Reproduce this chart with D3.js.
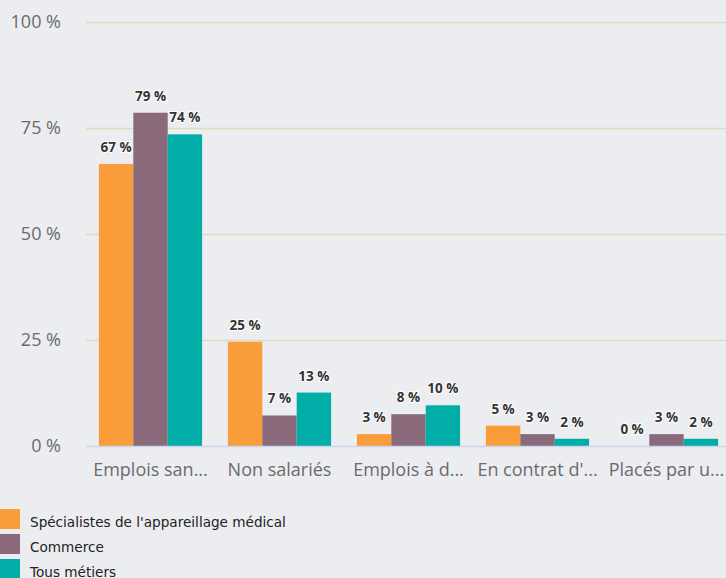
<!DOCTYPE html>
<html>
<head>
<meta charset="utf-8">
<script src="https://cdn.jsdelivr.net/npm/d3@7"></script>
<style>
  body { margin: 0; background: #ecedf0; }
  svg { display: block; font-family: "Open Sans", sans-serif; }
</style>
</head>
<body>
<svg id="svg"></svg>
<script>
var w = 726, h = 578;

// categories (as shown, truncated)
var categories = ["Emplois san...", "Non salariés", "Emplois à d...", "En contrat d'...", "Placés par u..."];
var seriesNames = ["Spécialistes de l'appareillage médical", "Commerce", "Tous métiers"];
var seriesColors = ["#f99d3a", "#8a6a7a", "#00ada7"];
// values in %
var specialistes = [66.5, 24.6, 2.8, 4.8, 0];
var commerce = [78.6, 7.2, 7.5, 2.8, 2.8];
var tousMetiers = [73.5, 12.6, 9.6, 1.7, 1.7];
var yTicks = [0, 25, 50, 75, 100];

var series = [specialistes, commerce, tousMetiers];

var svg = d3.select("#svg")
    .attr("width", w)
    .attr("height", h)

var x = d3.scaleBand()
    .domain(categories)
    .range([86, 731])
    .paddingInner(0.2)
    .paddingOuter(0.1)

var xs = d3.scaleBand()
    .domain(d3.range(series.length))
    .range([0, x.bandwidth()])

var y = d3.scaleLinear()
    .domain([0, 100])
    .range([446, 22])

// gridlines
svg.append("g")
    .selectAll("line")
    .data(yTicks.filter(function(t){return t > 0;}))
    .enter().append("line")
    .attr("x1", 86)
    .attr("x2", 726)
    .attr("y1", function(d){return y(d) + 0.5;})
    .attr("y2", function(d){return y(d) + 0.5;})
    .attr("stroke", "#d6e0bd")
    .attr("stroke-width", 1.5)

// y labels
svg.append("g")
    .selectAll("text")
    .data(yTicks)
    .enter().append("text")
    .attr("x", 61)
    .attr("y", function(d){return y(d) + 6;})
    .attr("text-anchor", "end")
    .attr("fill", "#6b6b6b")
    .style("font-size", "18px")
    .text(function(d){return d + " %";})

// bars
var groups = svg.append("g")
    .selectAll("g")
    .data(series)
    .enter().append("g")
    .attr("fill", function(d, i){return seriesColors[i];})

groups.each(function(vals, si){
    d3.select(this).selectAll("rect")
        .data(vals)
        .enter().append("rect")
        .attr("x", function(d, i){return x(categories[i]) + xs(si);})
        .attr("width", xs.bandwidth())
        .attr("y", function(d){return y(d);})
        .attr("height", function(d){return y(0) - y(d);})
})

// baseline
svg.append("line")
    .attr("x1", 86)
    .attr("x2", 726)
    .attr("y1", y(0) + 0.5)
    .attr("y2", y(0) + 0.5)
    .attr("stroke", "#ccd6eb")
    .attr("stroke-width", 1.5)

// data labels
groups.each(function(vals, si){
    d3.select(this).selectAll("text")
        .data(vals)
        .enter().append("text")
        .attr("x", function(d, i){return x(categories[i]) + xs(si) + xs.bandwidth() / 2;})
        .attr("y", function(d){return y(d) - 12;})
        .attr("text-anchor", "middle")
        .attr("fill", "#333")
        .attr("stroke", "#fff")
        .attr("stroke-width", 2)
        .attr("stroke-linejoin", "round")
        .attr("paint-order", "stroke")
        .style("font-size", "13.5px")
        .style("font-weight", "bold")
        .text(function(d){return Math.round(d) + " %";})
})

// x labels
svg.append("g")
    .selectAll("text")
    .data(categories)
    .enter().append("text")
    .attr("x", function(d){return x(d) + x.bandwidth() / 2;})
    .attr("y", 476)
    .attr("text-anchor", "middle")
    .attr("fill", "#6b6b6b")
    .style("font-size", "18px")
    .text(function(d){return d;})

// legend
var legend = svg.append("g")
    .selectAll("g")
    .data(seriesNames)
    .enter().append("g")
    .attr("transform", function(d, i){return "translate(0," + (509 + i * 25) + ")";})

legend.append("rect")
    .attr("width", 20)
    .attr("height", 20)
    .attr("fill", function(d, i){return seriesColors[i];})

legend.append("text")
    .attr("x", 30)
    .attr("y", 18)
    .attr("fill", "#222")
    .style("font-family", "'DejaVu Sans', sans-serif")
    .style("font-size", "13.6px")
    .text(function(d){return d;})
</script>
</body>
</html>
